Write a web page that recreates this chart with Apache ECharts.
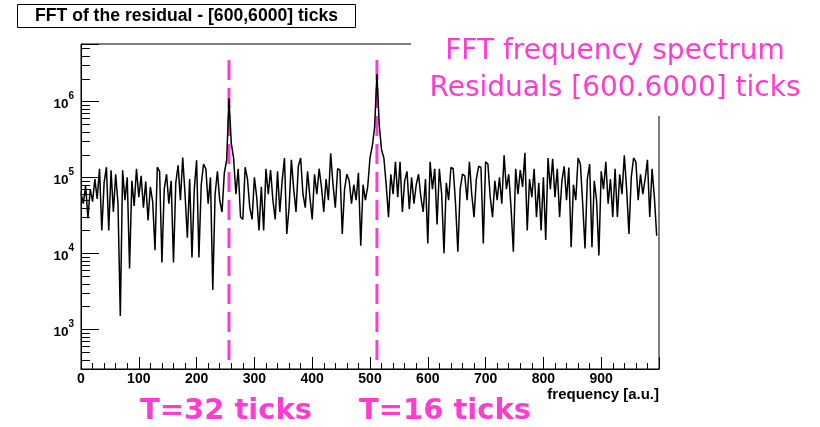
<!DOCTYPE html>
<html>
<head>
<meta charset="utf-8">
<title>FFT of the residual</title>
<script src="https://cdn.jsdelivr.net/npm/echarts@6/dist/echarts.min.js"></script>
<style>
  html, body { margin: 0; padding: 0; background: #fff; }
  #chart { width: 820px; height: 427px; }
</style>
</head>
<body>
<div id="chart"></div>
<script>
// FFT amplitude of the residual, one value every binWidth frequency units
const binWidth = 4;
const residual = [
  62000, 45000, 78000, 29000, 70000, 48000, 95000, 52000, 130000, 20000,
  85000, 136000, 20000, 124000, 35000, 110000, 45000, 1500, 124000, 50000,
  100000, 6300, 90000, 42000, 130000, 55000, 105000, 40000, 88000, 27000,
  75000, 48000, 11000, 136000, 120000, 7600, 70000, 110000, 45000, 90000,
  7600, 85000, 144000, 50000, 183000, 60000, 16000, 95000, 8800, 70000,
  168000, 8800, 80000, 150000, 130000, 45000, 100000, 3300, 60000, 120000,
  50000, 35000, 115000, 168000, 1100000, 280000, 180000, 60000, 130000, 30000,
  28000, 136000, 95000, 40000, 28000, 100000, 55000, 20000, 75000, 20000,
  130000, 60000, 125000, 50000, 28000, 120000, 35000, 90000, 180000, 18000,
  40000, 170000, 70000, 35000, 140000, 180000, 60000, 40000, 120000, 55000,
  28000, 110000, 60000, 130000, 75000, 35000, 95000, 50000, 207000, 80000,
  40000, 130000, 125000, 18000, 70000, 110000, 90000, 45000, 80000, 50000,
  115000, 12600, 80000, 50000, 75000, 180000, 260000, 460000, 2300000, 490000,
  230000, 180000, 80000, 30000, 110000, 60000, 160000, 55000, 160000, 35000,
  90000, 120000, 38000, 100000, 45000, 80000, 110000, 55000, 35000, 95000,
  13500, 160000, 70000, 130000, 24000, 130000, 60000, 10000, 85000, 50000,
  135000, 130000, 45000, 10500, 70000, 110000, 105000, 50000, 160000, 60000,
  30000, 95000, 140000, 135000, 13500, 160000, 150000, 55000, 30000, 90000,
  50000, 100000, 45000, 195000, 70000, 110000, 40000, 10500, 130000, 60000,
  125000, 75000, 210000, 20000, 95000, 55000, 130000, 30000, 85000, 20000,
  100000, 15000, 180000, 70000, 175000, 55000, 130000, 30000, 90000, 140000,
  50000, 135000, 12000, 80000, 50000, 180000, 150000, 45000, 11600, 95000,
  150000, 12000, 90000, 50000, 9400, 120000, 70000, 160000, 45000, 95000,
  30000, 130000, 30000, 110000, 60000, 195000, 70000, 18000, 100000, 180000,
  160000, 50000, 110000, 60000, 95000, 170000, 30000, 130000, 55000, 17000
];

// period markers (dashed lines) and their captions
const periodFreqs = [256, 512];
const periodSpan = [3.5e6, 330];
const periodLabels = ['T=32 ticks', 'T=16 ticks'];
const noteLines = ['FFT frequency spectrum', 'Residuals [600.6000] ticks'];

const yMin = 300, yMax = 5.7e6;
const pink = '#ff3ccf';

const chart = echarts.init(document.getElementById('chart'));
const points = residual.map((v, i) => [i * binWidth, v]);

// dashed pink lines go under the spectrum
const periodSeries = periodFreqs.map(f => ({
  type: 'line',
  z: 1,
  data: periodSpan.map(v => [f, v]),
  symbol: 'none',
  silent: true,
  lineStyle: { color: pink, width: 3, type: [20, 8] }
}));

chart.setOption({
  animation: false,
  backgroundColor: '#fff',
  textStyle: { fontFamily: 'Liberation Sans, Arial, sans-serif' },
  title: {
    text: 'FFT of the residual - [600,6000] ticks',
    left: 17,
    top: 4,
    padding: [3, 18, 3, 18],
    borderColor: '#000',
    borderWidth: 1,
    backgroundColor: '#fff',
    textStyle: { fontSize: 17.6, fontWeight: 'bold', color: '#000', lineHeight: 18 }
  },
  grid: { left: 81, right: 161, top: 44, bottom: 58, show: true, borderColor: '#000', borderWidth: 1 },
  xAxis: {
    type: 'value',
    min: 0,
    max: 1000,
    interval: 100,
    name: 'frequency [a.u.]',
    nameLocation: 'end',
    nameGap: 0,
    nameTextStyle: { align: 'right', verticalAlign: 'top', padding: [18, 0, 0, 0], fontSize: 15, fontWeight: 'bold', color: '#000' },
    axisLine: { lineStyle: { color: '#000' } },
    axisTick: { inside: true, length: 12, lineStyle: { color: '#000' } },
    minorTick: { show: true, splitNumber: 5, length: 6, lineStyle: { color: '#000' } },
    axisLabel: { color: '#000', fontSize: 14, fontWeight: 'bold', margin: 3, showMaxLabel: false },
    splitLine: { show: false }
  },
  yAxis: {
    type: 'log',
    logBase: 10,
    min: yMin,
    max: yMax,
    axisLine: { show: true, lineStyle: { color: '#000' } },
    axisTick: { show: true, inside: true, length: 18, lineStyle: { color: '#000' } },
    axisLabel: {
      margin: 7,
      formatter: function (v) {
        const lg = Math.log10(v);
        const e = Math.round(lg);
        if (Math.abs(lg - e) > 1e-6) return '';
        return '{b|10}{s|' + e + '}';
      },
      rich: {
        b: { fontSize: 13.5, fontWeight: 'bold', color: '#000', lineHeight: 20, verticalAlign: 'bottom' },
        s: { fontSize: 10, fontWeight: 'bold', color: '#000', lineHeight: 20, verticalAlign: 'top' }
      }
    },
    splitLine: { show: false }
  },
  series: periodSeries.concat([{
    type: 'line',
    z: 3,
    data: points,
    symbol: 'none',
    showSymbol: false,
    lineStyle: { color: '#000', width: 1.5 }
  }])
});

// ROOT style minor ticks on the log axis (2..9 x 10^n), placed with the axis scale
const x0 = chart.convertToPixel({ xAxisIndex: 0 }, 0);
const graphics = [];
for (let e = 2; e <= 6; e++) {
  for (let m = 2; m <= 9; m++) {
    const v = m * Math.pow(10, e);
    if (v <= yMin || v >= yMax) continue;
    const y = Math.round(chart.convertToPixel({ yAxisIndex: 0 }, v)) + 0.5;
    graphics.push({
      type: 'line', id: 'mt' + e + m, z: 10,
      shape: { x1: x0, y1: y, x2: x0 + 9, y2: y },
      style: { stroke: '#000', lineWidth: 1 }
    });
  }
}

// white box behind the pink note hides the frame corner, like in the slide
graphics.push({
  type: 'rect', id: 'noteBox', z: 5,
  shape: { x: 411, y: 38, width: 260, height: 78 },
  style: { fill: '#fff' }
});
noteLines.forEach((t, i) => {
  graphics.push({
    type: 'text', id: 'note' + i, z: 20,
    x: 615, y: 52 + i * 37,
    style: { text: t, fill: pink, font: '28px "DejaVu Sans"', textAlign: 'center', textVerticalAlign: 'middle' }
  });
});
const labelX = [226, 445];
periodLabels.forEach((t, i) => {
  graphics.push({
    type: 'text', id: 'period' + i, z: 20,
    x: labelX[i], y: 411,
    style: { text: t, fill: pink, font: 'bold 29px "DejaVu Sans"', textAlign: 'center', textVerticalAlign: 'middle' }
  });
});

chart.setOption({ graphic: graphics });
window.onresize = chart.resize;
</script>
</body>
</html>
